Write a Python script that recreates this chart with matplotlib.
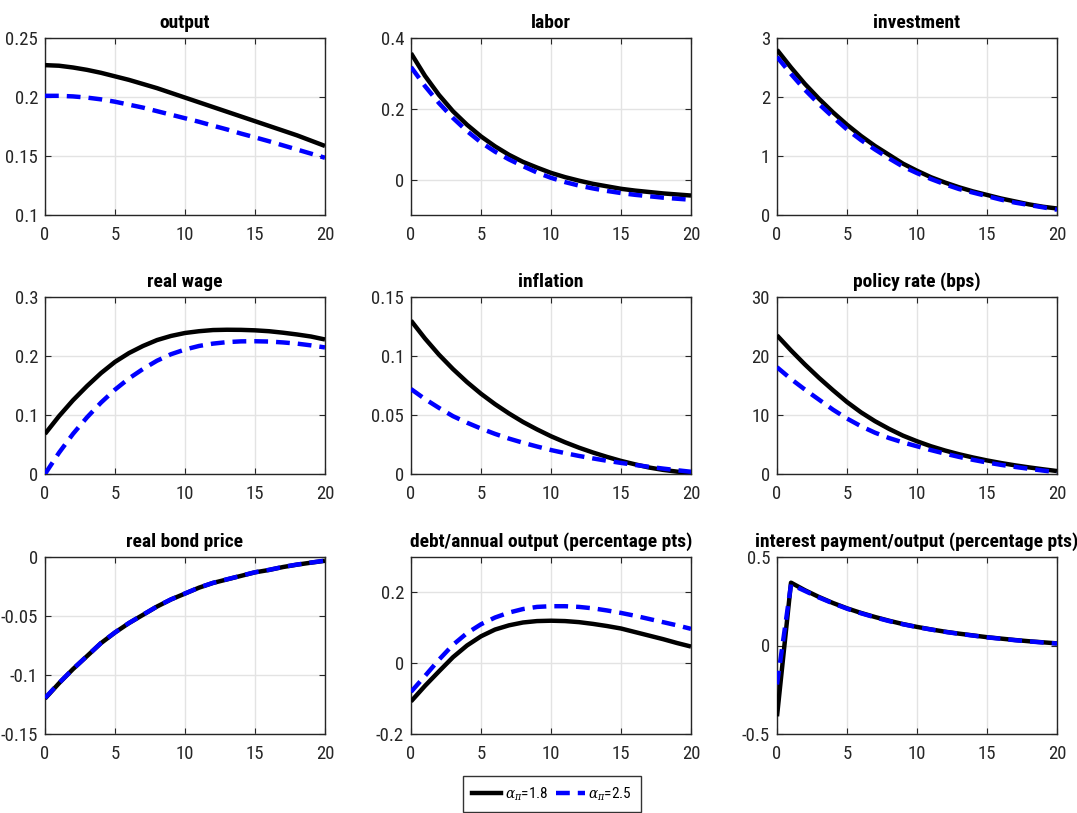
import numpy as np
import matplotlib
matplotlib.use("Agg")
import matplotlib.pyplot as plt
from matplotlib import font_manager
from matplotlib.lines import Line2D

# pick a condensed sans-serif face if one is installed
flist = font_manager.fontManager.ttflist
FAM, STRETCH = 'DejaVu Sans', 'normal'
for pref in ['Liberation Sans Narrow', 'Roboto Condensed', 'Open Sans Condensed', 'DejaVu Sans', 'Noto Sans']:
    hits = [f for f in flist if f.name == pref and
            ('condensed' in str(f.stretch).lower() or 'narrow' in f.name.lower() or 'condensed' in f.name.lower()
             or str(f.stretch).isdigit() and int(f.stretch) < 500)]
    if hits:
        FAM = pref
        STRETCH = 'condensed' if 'condensed' in str(hits[0].stretch).lower() else hits[0].stretch
        break
plt.rcParams['font.family'] = [FAM, 'DejaVu Sans']
plt.rcParams['font.stretch'] = STRETCH
plt.rcParams['mathtext.fontset'] = 'dejavuserif'

periods = list(range(21))

titles = ["output", "labor", "investment",
          "real wage", "inflation", "policy rate (bps)",
          "real bond price", "debt/annual output (percentage pts)",
          "interest payment/output (percentage pts)"]

legend_labels = [r"$\alpha_{\pi}$=1.8", r"$\alpha_{\pi}$=2.5"]

# series for alpha_pi = 1.8 (solid) and alpha_pi = 2.5 (dashed)
output_18 = [0.227, 0.2265, 0.225, 0.223, 0.2205, 0.2175, 0.2145, 0.211, 0.2075, 0.2035, 0.1995,
             0.1955, 0.1915, 0.1875, 0.1835, 0.1795, 0.1755, 0.1715, 0.1675, 0.163, 0.1585]
output_25 = [0.201, 0.201, 0.2005, 0.1995, 0.198, 0.196, 0.1935, 0.191, 0.188, 0.185, 0.182,
             0.179, 0.1757, 0.1725, 0.169, 0.1658, 0.1625, 0.159, 0.1555, 0.152, 0.1485]

labor_18 = [0.357, 0.293, 0.239, 0.193, 0.155, 0.122, 0.094, 0.070, 0.050, 0.034, 0.019,
            0.007, -0.003, -0.012, -0.019, -0.026, -0.031, -0.035, -0.039, -0.042, -0.045]
labor_25 = [0.318, 0.264, 0.216, 0.174, 0.137, 0.105, 0.079, 0.057, 0.038, 0.020, 0.005,
            -0.007, -0.017, -0.025, -0.032, -0.038, -0.043, -0.047, -0.051, -0.054, -0.057]

invest_18 = [2.80, 2.50, 2.22, 1.97, 1.74, 1.53, 1.34, 1.17, 1.02, 0.87, 0.75,
             0.64, 0.55, 0.47, 0.40, 0.34, 0.28, 0.23, 0.18, 0.14, 0.11]
invest_25 = [2.68, 2.39, 2.12, 1.88, 1.66, 1.45, 1.27, 1.11, 0.96, 0.82, 0.71,
             0.61, 0.52, 0.44, 0.38, 0.32, 0.26, 0.21, 0.17, 0.13, 0.09]

wage_18 = [0.068, 0.098, 0.125, 0.149, 0.171, 0.190, 0.205, 0.217, 0.227, 0.234, 0.239,
           0.242, 0.244, 0.2445, 0.2443, 0.2435, 0.242, 0.2395, 0.2365, 0.233, 0.228]
wage_25 = [0.0, 0.036, 0.068, 0.096, 0.121, 0.143, 0.162, 0.178, 0.192, 0.203, 0.211,
           0.217, 0.221, 0.2235, 0.2248, 0.2250, 0.2245, 0.223, 0.221, 0.218, 0.2145]

infl_18 = [0.130, 0.1148, 0.1011, 0.0889, 0.0779, 0.0680, 0.0592, 0.0513, 0.0441, 0.0378, 0.0320,
           0.0269, 0.0223, 0.0182, 0.0145, 0.0111, 0.0082, 0.0055, 0.0035, 0.0020, 0.0012]
infl_25 = [0.072, 0.0635, 0.056, 0.049, 0.0435, 0.0385, 0.034, 0.030, 0.0265, 0.0233, 0.0203,
           0.0177, 0.0153, 0.0132, 0.0112, 0.0094, 0.0077, 0.0061, 0.0046, 0.0032, 0.0019]

rate_18 = [23.5, 20.95, 18.55, 16.3, 14.2, 12.2, 10.45, 8.95, 7.65, 6.5, 5.55,
           4.7, 3.98, 3.35, 2.8, 2.3, 1.86, 1.47, 1.12, 0.8, 0.5]
rate_25 = [18.1, 16.1, 14.3, 12.6, 10.9, 9.4, 8.1, 7.0, 6.1, 5.35, 4.7,
           4.05, 3.45, 2.9, 2.4, 1.95, 1.55, 1.2, 0.88, 0.58, 0.3]

bond_18 = [-0.120, -0.107, -0.095, -0.084, -0.073, -0.064, -0.056, -0.049, -0.042, -0.036, -0.031,
           -0.026, -0.022, -0.019, -0.016, -0.013, -0.011, -0.0085, -0.0065, -0.0048, -0.0032]
bond_25 = [-0.1195, -0.1068, -0.0949, -0.0839, -0.0729, -0.0639, -0.0559, -0.0489, -0.0419, -0.0359, -0.0309,
           -0.0259, -0.0219, -0.0189, -0.0159, -0.0129, -0.0109, -0.0084, -0.0064, -0.0047, -0.0031]

debt_18 = [-0.108, -0.064, -0.023, 0.017, 0.050, 0.076, 0.095, 0.107, 0.115, 0.119, 0.120,
           0.119, 0.116, 0.111, 0.105, 0.098, 0.088, 0.078, 0.068, 0.057, 0.047]
debt_25 = [-0.081, -0.036, 0.010, 0.052, 0.085, 0.110, 0.129, 0.143, 0.153, 0.159, 0.161,
           0.161, 0.159, 0.155, 0.149, 0.142, 0.134, 0.125, 0.116, 0.107, 0.097]

intpay_18 = [-0.40, 0.355, 0.312, 0.274, 0.240, 0.210, 0.184, 0.161, 0.140, 0.121, 0.105,
             0.091, 0.078, 0.067, 0.057, 0.047, 0.039, 0.031, 0.024, 0.018, 0.012]
intpay_25 = [-0.22, 0.345, 0.308, 0.271, 0.238, 0.208, 0.182, 0.159, 0.138, 0.120, 0.104,
             0.090, 0.077, 0.066, 0.056, 0.046, 0.038, 0.030, 0.023, 0.017, 0.011]

series_18 = [output_18, labor_18, invest_18, wage_18, infl_18, rate_18, bond_18, debt_18, intpay_18]
series_25 = [output_25, labor_25, invest_25, wage_25, infl_25, rate_25, bond_25, debt_25, intpay_25]

ylims = [(0.1, 0.25), (-0.1, 0.4), (0, 3),
         (0, 0.3), (0, 0.15), (0, 30),
         (-0.15, 0), (-0.2, 0.3), (-0.5, 0.5)]
yticks = [[0.1, 0.15, 0.2, 0.25], [0, 0.2, 0.4], [0, 1, 2, 3],
          [0, 0.1, 0.2, 0.3], [0, 0.05, 0.1, 0.15], [0, 10, 20, 30],
          [-0.15, -0.1, -0.05, 0], [-0.2, 0, 0.2], [-0.5, 0, 0.5]]
yticklabels = [["0.1", "0.15", "0.2", "0.25"], ["0", "0.2", "0.4"], ["0", "1", "2", "3"],
               ["0", "0.1", "0.2", "0.3"], ["0", "0.05", "0.1", "0.15"], ["0", "10", "20", "30"],
               ["-0.15", "-0.1", "-0.05", "0"], ["-0.2", "0", "0.2"], ["-0.5", "0", "0.5"]]
xticks = [0, 5, 10, 15, 20]
xticklabels = ["0", "5", "10", "15", "20"]

W, H = 1077, 813
fig = plt.figure(figsize=(W / 100, H / 100), dpi=100)

col_left = [45, 411, 777]
col_w = 280
row_top = [38, 297, 557]
row_h = 177

LW = 3.2
DASH = (0, (3.1, 1.8))
spine_c = '#262626'
for i in range(9):
    r, c = divmod(i, 3)
    ax = fig.add_axes([col_left[c] / W, 1 - (row_top[r] + row_h) / H, col_w / W, row_h / H])
    ax.plot(periods, series_18[i], color='black', lw=LW, solid_capstyle='butt', zorder=3)
    ax.plot(periods, series_25[i], color='#0000ff', lw=LW, ls=DASH,
            dash_capstyle='butt', zorder=4)
    ax.set_xlim(0, 20)
    ax.set_ylim(*ylims[i])
    ax.set_xticks(xticks)
    ax.set_xticklabels(xticklabels)
    ax.set_yticks(yticks[i])
    ax.set_yticklabels(yticklabels[i])
    ax.grid(True, color='#e3e3e3', lw=1.0, zorder=0)
    ax.set_axisbelow(True)
    ax.tick_params(direction='in', top=True, right=True, length=4, width=0.8,
                   colors=spine_c, labelsize=13.5)
    ax.tick_params(axis='x', pad=8)
    ax.tick_params(axis='y', pad=5)
    for s in ax.spines.values():
        s.set_color(spine_c)
        s.set_linewidth(1.0)
    ax.set_title(titles[i], fontsize=14, fontweight='bold', pad=7)

handles = [Line2D([], [], color='black', lw=LW),
           Line2D([], [], color='#0000ff', lw=LW, ls=DASH)]
leg = fig.legend(handles, legend_labels, loc='center', ncol=2,
                 bbox_to_anchor=(552 / W, 1 - 794 / H), frameon=True, fancybox=False,
                 edgecolor='black', fontsize=11, handlelength=1.9, handletextpad=0.2,
                 columnspacing=0.5, borderpad=0.6, borderaxespad=0)
leg.get_frame().set_linewidth(1.0)

fig.savefig("out.png", dpi=100, facecolor='white')
